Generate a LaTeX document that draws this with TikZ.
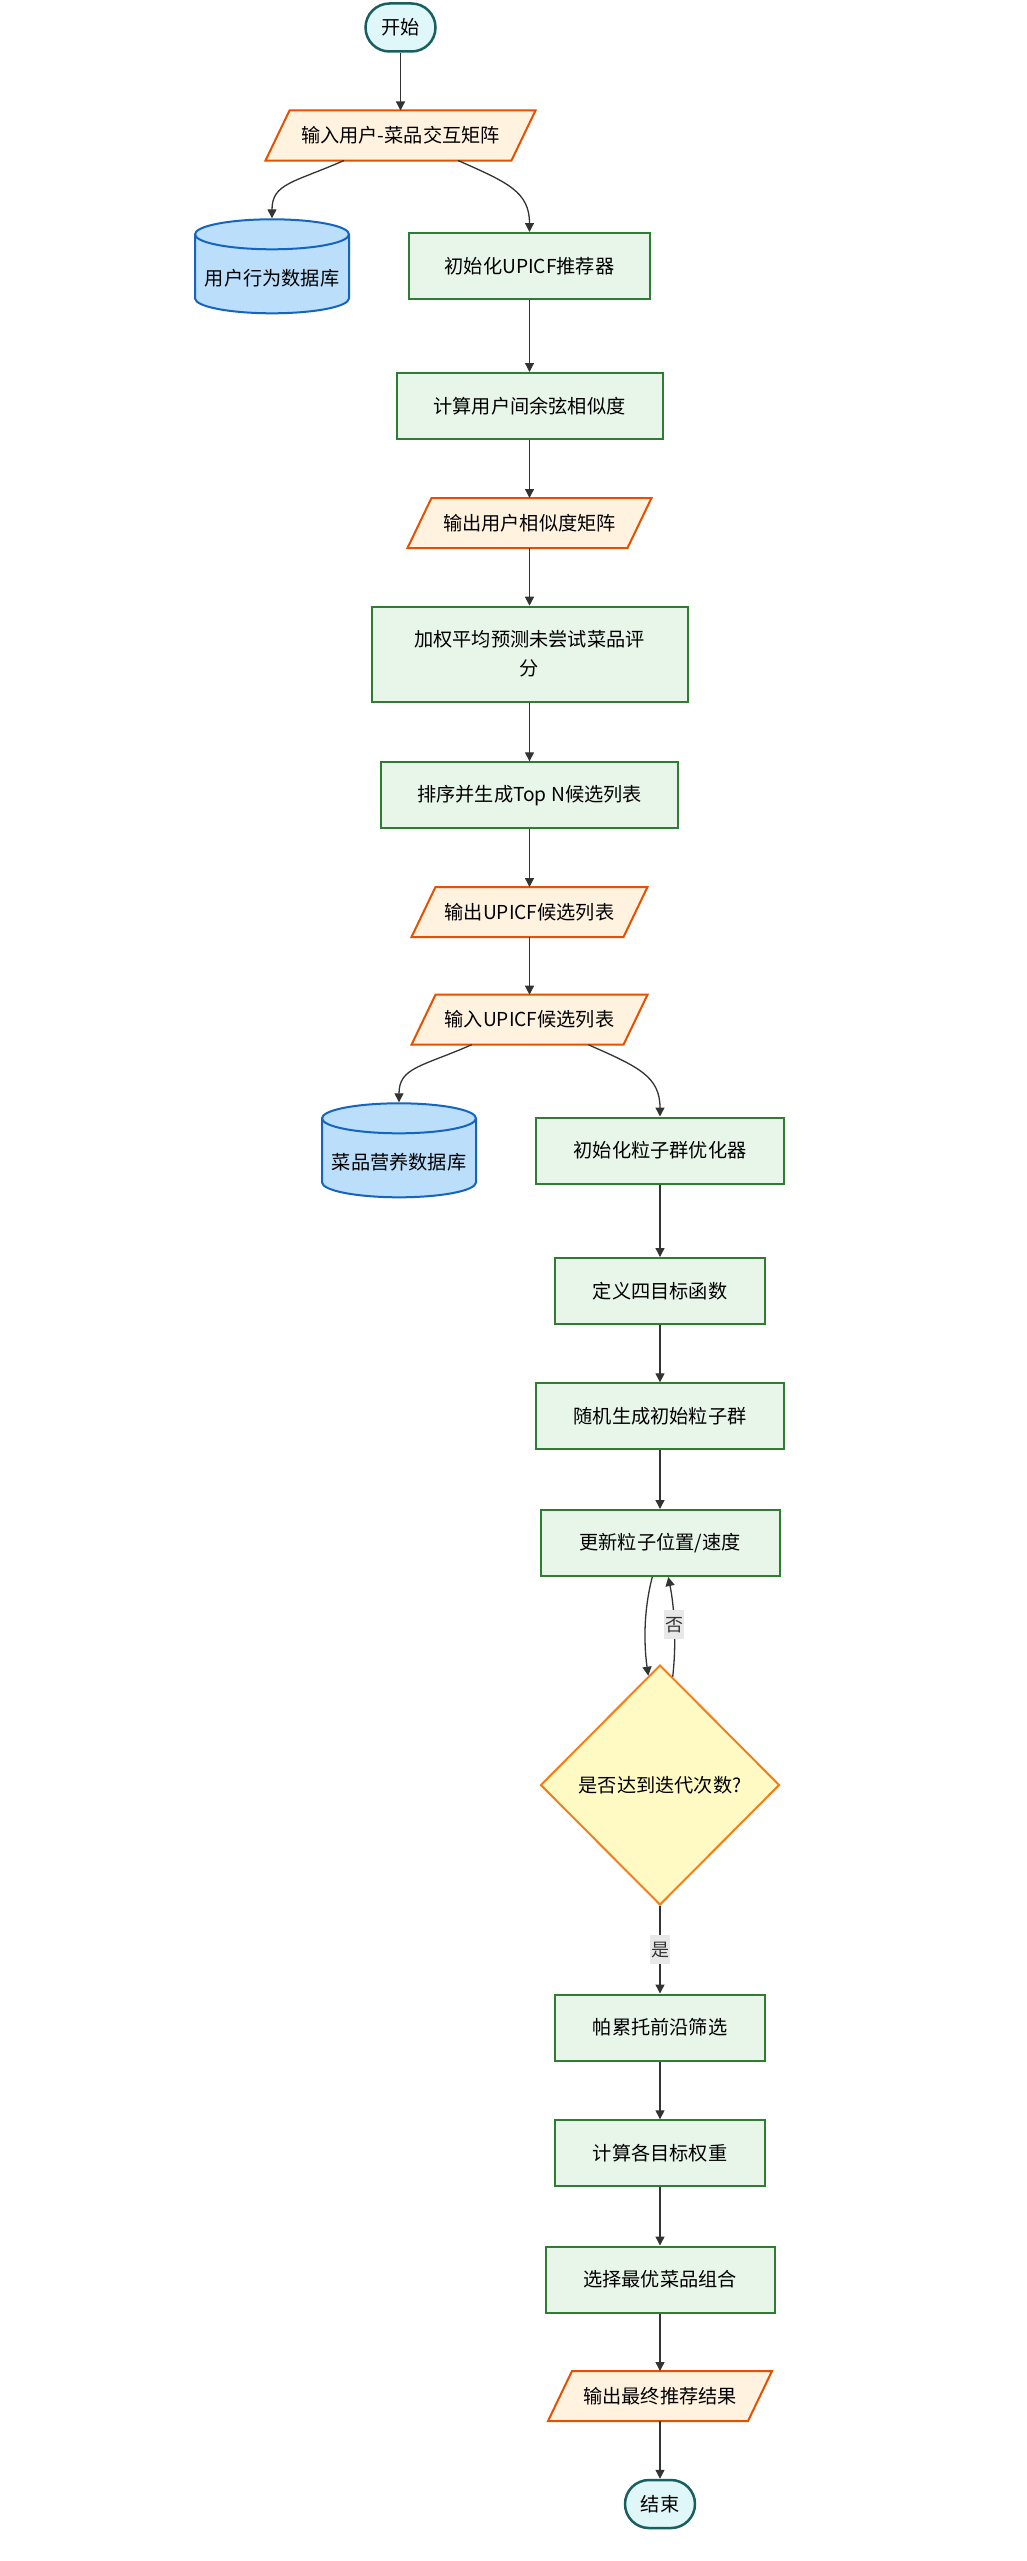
\documentclass[tikz,border=0pt]{standalone}
\usepackage{fontspec}
\setmainfont{Noto Sans CJK SC}
\usetikzlibrary{shapes.geometric,arrows.meta,backgrounds,calc}

\definecolor{procfill}{HTML}{E8F5E9}
\definecolor{procdraw}{HTML}{2E7D32}
\definecolor{iofill}{HTML}{FFF3E0}
\definecolor{iodraw}{HTML}{E65100}
\definecolor{dbfill}{HTML}{BBDEFB}
\definecolor{dbdraw}{HTML}{1565C0}
\definecolor{decfill}{HTML}{FFF9C4}
\definecolor{decdraw}{HTML}{F57F17}
\definecolor{termfill}{HTML}{E0F7FA}
\definecolor{termdraw}{HTML}{1A5F60}
\definecolor{edgecol}{HTML}{333333}
\definecolor{lblfill}{HTML}{E8E8E8}

\tikzset{
  txt/.style={font=\fontsize{19.2pt}{29pt}\selectfont, text=black, align=center},
  proc/.style={txt, draw=procdraw, fill=procfill, line width=2pt, minimum height=66pt, inner sep=0pt},
  io/.style={txt, minimum height=48pt, inner sep=0pt, outer sep=1pt},
  iopath/.style={draw=iodraw, fill=iofill, line width=2pt, line join=miter},
  db/.style={minimum width=154pt, minimum height=94pt, inner sep=0pt, outer sep=0pt},
  dbpath/.style={draw=dbdraw, fill=dbfill, line width=2pt},
  dec/.style={txt, diamond, draw=decdraw, fill=decfill, line width=2pt, minimum width=239pt, minimum height=240pt, inner sep=0pt},
  term/.style={txt, draw=termdraw, fill=termfill, line width=2.5pt, rounded corners=24pt, minimum width=70pt, minimum height=48pt, inner sep=0pt},
  arr/.style={draw=edgecol, line width=1.3pt, -{Triangle[length=9pt,width=9pt]}},
  elabel/.style={font=\fontsize{18pt}{18pt}\selectfont, text=edgecol, fill=lblfill, inner sep=0pt, minimum width=20pt, minimum height=29pt},
}

\newcommand\ioshape[1]{%
  \path[iopath] ([xshift=12pt]#1.north west) -- ([xshift=12pt]#1.north east) -- ([xshift=-12pt]#1.south east) -- ([xshift=-12pt]#1.south west) -- cycle;}
\newcommand\dbshape[1]{%
  \path[dbpath] ([yshift=-15pt]#1.north west) -- ([yshift=15pt]#1.south west) arc[start angle=180, end angle=360, x radius=77pt, y radius=15pt] -- ([yshift=-15pt]#1.north east) arc[start angle=0, end angle=180, x radius=77pt, y radius=15pt] -- cycle;
  \draw[dbpath, fill=none] ([yshift=-15pt]#1.north west) arc[start angle=180, end angle=360, x radius=77pt, y radius=15pt];}

\begin{document}
\begin{tikzpicture}[x=1pt, y=-1pt]
\useasboundingbox (0,0) rectangle (1026,2561);

% nodes
\node[term] (start) at (400.5,27.5) {开始};
\node[io, minimum width=244pt] (in1) at (400.5,135.5) {输入用户-菜品交互矩阵};
\node[db, label={[txt, yshift=-12pt]center:用户行为数据库}] (db1) at (272,266.3) {};
\node[proc, minimum width=241pt] (init1) at (529.5,266) {初始化UPICF推荐器};
\node[proc, minimum width=266pt] (cos) at (529.5,406) {计算用户间余弦相似度};
\node[io, minimum width=218pt] (sim) at (529.5,523) {输出用户相似度矩阵};
\node[proc, minimum width=316pt, minimum height=95pt] (wavg) at (529.5,654.2) {加权平均预测未尝试菜品评\\分};
\node[proc, minimum width=297pt] (sort) at (529.5,795.3) {排序并生成Top N候选列表};
\node[io, minimum width=210pt] (out2) at (529.5,912) {输出UPICF候选列表};
\node[io, minimum width=210pt] (in2) at (529.5,1019.7) {输入UPICF候选列表};
\node[db, label={[txt, yshift=-12pt]center:菜品营养数据库}] (db2) at (399,1150.3) {};
\node[proc, minimum width=248pt] (pso) at (660,1150.5) {初始化粒子群优化器};
\node[proc, minimum width=210pt] (def) at (660,1291) {定义四目标函数};
\node[proc, minimum width=248pt] (rnd) at (660,1416.3) {随机生成初始粒子群};
\node[proc, minimum width=239pt] (upd) at (660,1543) {更新粒子位置/速度};
\node[dec] (dia) at (660,1785) {是否达到迭代次数?};
\node[proc, minimum width=210pt] (par) at (660,2027.5) {帕累托前沿筛选};
\node[proc, minimum width=210pt] (wgt) at (660,2153.3) {计算各目标权重};
\node[proc, minimum width=229pt] (sel) at (660,2279.5) {选择最优菜品组合};
\node[io, minimum width=198pt] (outf) at (660,2396) {输出最终推荐结果};
\node[term] (end) at (660,2504) {结束};

% shapes behind text
\begin{pgfonlayer}{background}
\fill[white] (0,0) rectangle (1026,2561);
\ioshape{in1}
\ioshape{sim}
\ioshape{out2}
\ioshape{in2}
\ioshape{outf}
\dbshape{db1}
\dbshape{db2}
\end{pgfonlayer}

% connectors
\draw[arr] (start) -- (in1);
\draw[arr] ([xshift=-56.5pt]in1.south) .. controls +(-50,22) and +(0,-35) .. ([yshift=1pt]db1.north);
\draw[arr] ([xshift=57.5pt]in1.south) .. controls +(50,22) and +(0,-40) .. (init1.north);
\draw[arr] (init1) -- (cos);
\draw[arr] (cos) -- (sim);
\draw[arr] (sim) -- (wavg);
\draw[arr] (wavg) -- (sort);
\draw[arr] (sort) -- (out2);
\draw[arr] (out2) -- (in2);
\draw[arr] ([xshift=-57.8pt]in2.south) .. controls +(-50,22) and +(0,-35) .. ([yshift=1pt]db2.north);
\draw[arr] ([xshift=58.8pt]in2.south) .. controls +(50,22) and +(0,-40) .. (pso.north);
\draw[arr] (pso) -- (def);
\draw[arr] (def) -- (rnd);
\draw[arr] (rnd) -- (upd);
\draw[arr] ([xshift=-7.7pt]upd.south) .. controls +(-8,30) and +(-5,-35) .. ($(dia.north)+(-11.7,11.7)$);
\draw[arr] ($(dia.north)+(12.7,12.7)$) .. controls +(4,-35) and +(6,30) .. ([xshift=8.3pt]upd.south) node[elabel, pos=0.5] {否};
\draw[arr] (dia) -- node[elabel] {是} (par);
\draw[arr] (par) -- (wgt);
\draw[arr] (wgt) -- (sel);
\draw[arr] (sel) -- (outf);
\draw[arr] (outf) -- (end);
\end{tikzpicture}
\end{document}
